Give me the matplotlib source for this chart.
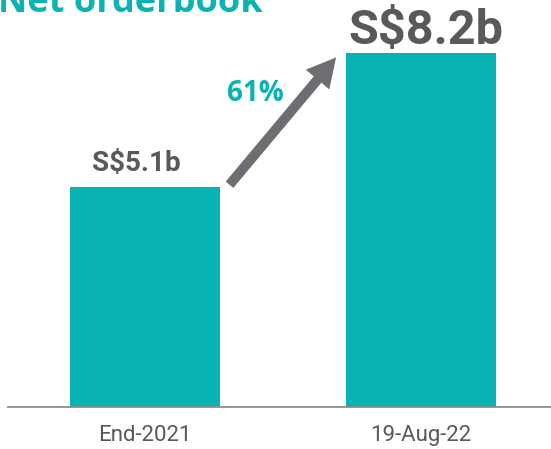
import matplotlib.pyplot as plt
from matplotlib.patches import FancyArrowPatch

categories = ["End-2021", "19-Aug-22"]
values = [5.1, 8.2]
value_labels = ["S$5.1b", "S$8.2b"]
growth_label = "61%"
title = "Net orderbook"

teal = "#07B3B3"
dark = "#595959"
arrow_grey = "#6D6E71"

fig = plt.figure(figsize=(5.51, 4.49), dpi=100)
ax = fig.add_axes([8 / 551, 42 / 449, 543 / 551, 407 / 449])

x = [0, 1]
ax.bar(x, values, width=0.543, color=teal, zorder=2)
ax.set_xlim(-0.496, 1.471)
ax.set_ylim(0, 9.43)

for s in ["top", "right", "left"]:
    ax.spines[s].set_visible(False)
ax.spines["bottom"].set_color("#8C8C8C")
ax.spines["bottom"].set_linewidth(1.3)
ax.set_yticks([])
ax.set_xticks(x)
ax.set_xticklabels(categories, fontsize=16, color=dark, family="Roboto")
ax.tick_params(axis="x", length=0, pad=13)

# value labels
ax.text(x[0] - 0.03, values[0] + 0.55, value_labels[0], ha="center", va="center",
        fontsize=20, fontweight="bold", color=dark, family="Roboto")
ax.text(x[1] + 0.018, values[1] + 0.51, value_labels[1], ha="center", va="center",
        fontsize=35, fontweight="bold", color=dark, family="Roboto")

# growth arrow
arr = FancyArrowPatch((0.30, values[0]), (0.699, values[1] - 0.05),
                      arrowstyle="simple,head_length=1.6,head_width=1.7,tail_width=0.55",
                      mutation_scale=13, color=arrow_grey, lw=0, zorder=3)
ax.add_patch(arr)
ax.text(0.40, 7.27, growth_label, ha="center", va="center",
        fontsize=20, fontweight="bold", color=teal, family="Open Sans")

# title, cropped at the top edge
fig.text(-2 / 551, 437 / 449, title, ha="left", va="baseline",
         fontsize=26, fontweight="bold", color=teal, family="Open Sans")

fig.savefig("out.png", dpi=100)
